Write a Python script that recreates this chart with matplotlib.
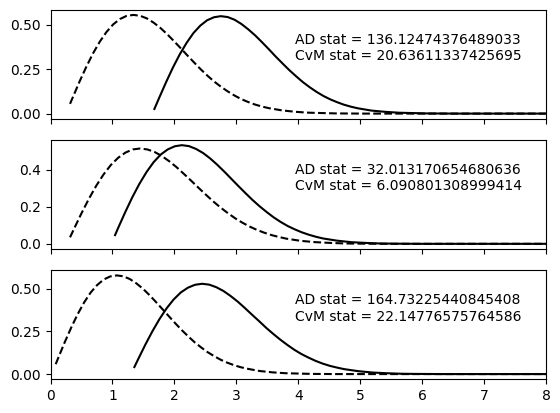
import matplotlib
matplotlib.use('Agg')
import matplotlib.pyplot as plt

# values, one x/y pair per curve
x_top_dash = [0.315, 0.359, 0.468, 0.577, 0.686, 0.795, 0.904, 1.013, 1.122, 1.231, 1.34, 1.449,
              1.558, 1.667, 1.776, 1.885, 1.994, 2.103, 2.212, 2.321, 2.43, 2.539, 2.648, 2.757,
              2.866, 2.975, 3.084, 3.193, 3.302, 3.411, 3.52, 3.738, 3.956, 4.174, 4.392, 4.61,
              5.046, 8.0]
y_top_dash = [0.055, 0.091, 0.180, 0.263, 0.339, 0.405, 0.460, 0.503, 0.533, 0.551, 0.556, 0.551,
              0.536, 0.512, 0.482, 0.447, 0.408, 0.368, 0.327, 0.287, 0.248, 0.212, 0.179, 0.150,
              0.124, 0.101, 0.081, 0.065, 0.051, 0.040, 0.031, 0.018, 0.010, 0.005, 0.003, 0.001,
              0.0, 0.0]
x_top_solid = [1.677, 1.756, 1.866, 1.977, 2.087, 2.198, 2.308, 2.419, 2.529, 2.64, 2.75, 2.861,
               2.971, 3.082, 3.192, 3.303, 3.413, 3.524, 3.634, 3.745, 3.855, 3.966, 4.076, 4.187,
               4.297, 4.408, 4.518, 4.629, 4.739, 4.85, 4.96, 5.181, 5.402, 5.623, 5.844, 6.065,
               6.507, 8.0]
y_top_solid = [0.026, 0.090, 0.177, 0.260, 0.334, 0.399, 0.454, 0.496, 0.526, 0.543, 0.549, 0.544,
               0.529, 0.505, 0.475, 0.441, 0.403, 0.363, 0.322, 0.283, 0.245, 0.210, 0.177, 0.148,
               0.122, 0.099, 0.080, 0.064, 0.050, 0.039, 0.030, 0.017, 0.010, 0.005, 0.003, 0.001,
               0.0, 0.0]

x_mid_dash = [0.315, 0.384, 0.502, 0.62, 0.738, 0.856, 0.974, 1.092, 1.21, 1.328, 1.446, 1.564,
              1.682, 1.80, 1.918, 2.036, 2.154, 2.272, 2.39, 2.508, 2.626, 2.744, 2.862, 2.98,
              3.098, 3.216, 3.334, 3.452, 3.57, 3.688, 3.806, 4.042, 4.278, 4.514, 4.75, 4.986,
              5.458, 8.0]
y_mid_dash = [0.035, 0.084, 0.166, 0.243, 0.313, 0.374, 0.425, 0.464, 0.492, 0.509, 0.514, 0.509,
              0.495, 0.473, 0.445, 0.413, 0.377, 0.340, 0.302, 0.265, 0.229, 0.196, 0.166, 0.138,
              0.114, 0.093, 0.075, 0.060, 0.047, 0.037, 0.028, 0.016, 0.009, 0.005, 0.002, 0.001,
              0.0, 0.0]
x_mid_solid = [1.042, 1.094, 1.208, 1.322, 1.436, 1.55, 1.664, 1.778, 1.892, 2.006, 2.12, 2.234,
               2.348, 2.462, 2.576, 2.69, 2.804, 2.918, 3.032, 3.146, 3.26, 3.374, 3.488, 3.602,
               3.716, 3.83, 3.944, 4.058, 4.172, 4.286, 4.40, 4.628, 4.856, 5.084, 5.312, 5.54,
               5.996, 8.0]
y_mid_solid = [0.047, 0.087, 0.172, 0.252, 0.324, 0.387, 0.440, 0.481, 0.509, 0.526, 0.532, 0.527,
               0.512, 0.490, 0.461, 0.427, 0.390, 0.351, 0.312, 0.274, 0.237, 0.203, 0.172, 0.143,
               0.118, 0.096, 0.078, 0.062, 0.049, 0.038, 0.029, 0.017, 0.009, 0.005, 0.002, 0.001,
               0.0, 0.0]

x_bot_dash = [0.084, 0.125, 0.23, 0.335, 0.44, 0.545, 0.649, 0.754, 0.859, 0.964, 1.069, 1.174,
              1.279, 1.384, 1.489, 1.594, 1.698, 1.803, 1.908, 2.013, 2.118, 2.223, 2.328, 2.433,
              2.538, 2.643, 2.747, 2.852, 2.957, 3.062, 3.167, 3.377, 3.587, 3.796, 4.006, 4.216,
              4.636, 8.0]
y_bot_dash = [0.058, 0.095, 0.187, 0.273, 0.352, 0.421, 0.478, 0.522, 0.554, 0.572, 0.578, 0.573,
              0.557, 0.532, 0.501, 0.464, 0.424, 0.382, 0.340, 0.298, 0.258, 0.221, 0.186, 0.156,
              0.128, 0.105, 0.084, 0.067, 0.053, 0.041, 0.032, 0.018, 0.010, 0.005, 0.003, 0.001,
              0.0, 0.0]
x_bot_solid = [1.354, 1.415, 1.529, 1.644, 1.759, 1.874, 1.988, 2.103, 2.218, 2.332, 2.447, 2.562,
               2.676, 2.791, 2.906, 3.021, 3.135, 3.25, 3.365, 3.479, 3.594, 3.709, 3.823, 3.938,
               4.053, 4.168, 4.282, 4.397, 4.512, 4.626, 4.741, 4.97, 5.2, 5.429, 5.659, 5.888,
               6.347, 8.0]
y_bot_solid = [0.041, 0.087, 0.171, 0.250, 0.322, 0.385, 0.437, 0.478, 0.506, 0.523, 0.529, 0.524,
               0.509, 0.487, 0.458, 0.425, 0.388, 0.349, 0.311, 0.272, 0.236, 0.202, 0.171, 0.142,
               0.117, 0.096, 0.077, 0.061, 0.048, 0.038, 0.029, 0.017, 0.009, 0.005, 0.002, 0.001,
               0.0, 0.0]

ad_stats = [136.12474376489033, 32.013170654680636, 164.73225440845408]
cvm_stats = [20.63611337425695, 6.090801308999414, 22.14776575764586]

curves = [
    (x_top_dash, y_top_dash, x_top_solid, y_top_solid),
    (x_mid_dash, y_mid_dash, x_mid_solid, y_mid_solid),
    (x_bot_dash, y_bot_dash, x_bot_solid, y_bot_solid),
]

fig, axes = plt.subplots(3, 1, sharex=True, figsize=(5.6, 4.13), dpi=100)
fig.subplots_adjust(left=0.0902, right=0.975, top=0.9758, bottom=0.0823, hspace=0.2)

for ax, (xd, yd, xs, ys), ad, cvm in zip(axes, curves, ad_stats, cvm_stats):
    ax.plot(xd, yd, 'k--')
    ax.plot(xs, ys, 'k-')
    ax.text(0.7215, 0.65, 'AD stat = {}\nCvM stat = {}'.format(ad, cvm),
            transform=ax.transAxes, ha='center', va='center')

axes[0].set_xlim(0, 8)

fig.savefig('out.png', dpi=100)
